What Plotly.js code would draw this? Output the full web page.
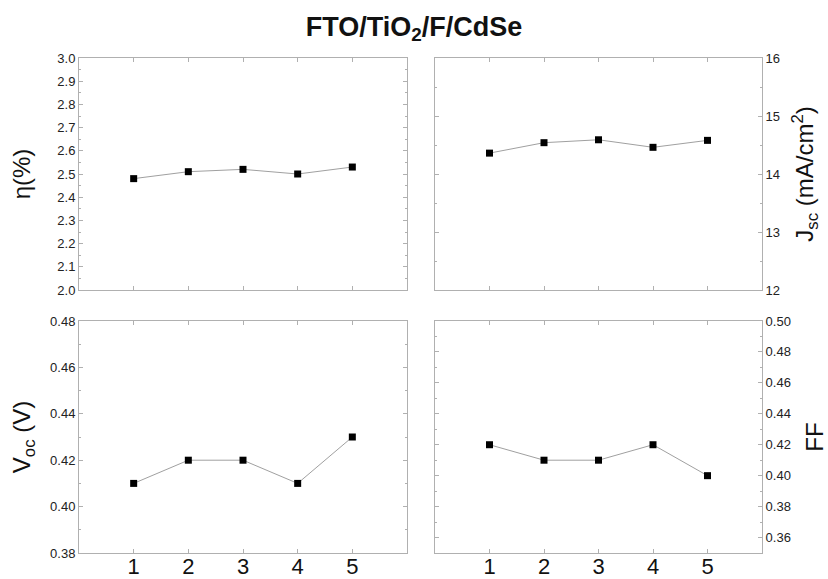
<!DOCTYPE html>
<html>
<head>
<meta charset="utf-8">
<script src="https://cdn.plot.ly/plotly-3.0.1.min.js"></script>
<style>html,body{margin:0;padding:0;background:#fff;}#chart{width:828px;height:579px;}</style>
</head>
<body>
<div id="chart"></div>
<script>
// Sample index
const samples = [1, 2, 3, 4, 5];
// Efficiency (%)
const eta = [2.48, 2.51, 2.52, 2.50, 2.53];
// Short-circuit current density (mA/cm^2)
const jsc = [14.36, 14.54, 14.59, 14.46, 14.58];
// Open-circuit voltage (V)
const voc = [0.41, 0.42, 0.42, 0.41, 0.43];
// Fill factor
const ff = [0.42, 0.41, 0.41, 0.42, 0.40];
const xTickLabels = ['1', '2', '3', '4', '5'];

const FONT = 'Liberation Sans, Arial, sans-serif';
const lineStyle = {color: '#a0a0a0', width: 1};
const markerStyle = {symbol: 'square', size: 7, color: '#000000'};

function tr(y, xa, ya) {
  return {x: samples, y: y, xaxis: xa, yaxis: ya, type: 'scatter', mode: 'lines+markers',
          line: lineStyle, marker: markerStyle, showlegend: false, hoverinfo: 'skip'};
}

const data = [
  tr(eta, 'x', 'y'),
  tr(jsc, 'x2', 'y2'),
  tr(voc, 'x3', 'y3'),
  tr(ff, 'x4', 'y4')
];

const axColor = '#b0b0b0';
function xAx(domain, anchor, showLabels) {
  return {
    domain: domain, anchor: anchor, range: [0, 6],
    tickmode: 'array', tickvals: samples, ticktext: xTickLabels,
    showticklabels: showLabels, ticks: 'inside', ticklen: 4, tickcolor: axColor,
    ticklabelstandoff: -6,
    showline: true, linecolor: axColor, linewidth: 1, mirror: 'ticks',
    showgrid: false, zeroline: false,
    tickfont: {family: FONT, size: 22, color: '#111'}
  };
}
function yAx(domain, anchor, range, dtick, minorDtick, fmt, side, title, titleStandoff) {
  return {
    domain: domain, anchor: anchor, range: range, side: side,
    dtick: dtick, tick0: 0, tickformat: fmt,
    ticks: 'inside', ticklen: 4, tickcolor: axColor,
    minor: {dtick: minorDtick, ticks: 'inside', ticklen: 2, tickcolor: axColor, showgrid: false},
    showline: true, linecolor: axColor, linewidth: 1, mirror: 'ticks',
    showgrid: false, zeroline: false,
    tickfont: {family: FONT, size: 13, color: '#222'},
    title: {text: title, font: {family: FONT, size: 24, color: '#111'}, standoff: titleStandoff}
  };
}

const xL = [79/828, 407/828];
const xR = [435/828, 762/828];
const yT = [1 - 290/579, 1 - 58/579];
const yB = [1 - 553/579, 1 - 321/579];

const layout = {
  width: 828, height: 579,
  margin: {l: 0, r: 0, t: 0, b: 0},
  paper_bgcolor: '#ffffff', plot_bgcolor: '#ffffff',
  showlegend: false,
  title: {text: '<b>FTO/TiO<sub>2</sub>/F/CdSe</b>', font: {family: FONT, size: 27, color: '#111'},
          x: 0.5, xanchor: 'center', y: 0.955, yanchor: 'middle'},
  xaxis: xAx(xL, 'y', false),
  yaxis: yAx(yT, 'x', [2.0, 3.0], 0.1, 0.05, '.1f', 'left', 'η(%)', 19),
  xaxis2: xAx(xR, 'y2', false),
  yaxis2: yAx(yT, 'x2', [12, 16], 1, 0.5, 'd', 'right', 'J<sub>sc</sub> (mA/cm<sup>2</sup>)', 17),
  xaxis3: xAx(xL, 'y3', true),
  yaxis3: yAx(yB, 'x3', [0.38, 0.48], 0.02, 0.01, '.2f', 'left', 'V<sub>oc</sub> (V)', 12),
  xaxis4: xAx(xR, 'y4', true),
  yaxis4: yAx(yB, 'x4', [0.35, 0.50], 0.02, 0.01, '.2f', 'right', 'FF', 18)
};

Plotly.newPlot('chart', data, layout, {displayModeBar: false, staticPlot: true});
</script>
</body>
</html>
